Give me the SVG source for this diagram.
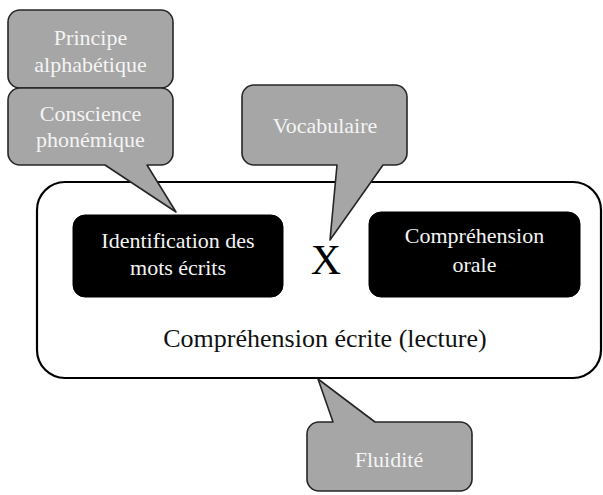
<svg xmlns="http://www.w3.org/2000/svg" width="603" height="495" viewBox="0 0 603 495">
<style>
text { font-family: 'Liberation Serif', 'DejaVu Serif', serif; text-anchor: middle; }
.call { fill: #a6a6a6; stroke: #262626; stroke-width: 1.6; stroke-linejoin: round; }
.callt { fill: #f4f4f4; font-size: 22px; }
.blk { fill: #000; stroke: #000; stroke-width: 1; }
.blkt { fill: #f4f4f4; font-size: 22px; }
.outer { fill: #fff; stroke: #000; stroke-width: 2.2; }
</style>
<rect width="603" height="495" fill="#fff"/>
<g id="lecture">
  <rect class="outer" x="37" y="182" width="564" height="196" rx="28"/>
  <text x="325" y="347" font-size="26" fill="#111" font-family="Liberation Serif, DejaVu Serif, serif">Compréhension écrite (lecture)</text>
</g>
<g id="identification">
  <rect class="blk" x="73" y="215" width="210" height="82" rx="12"/>
  <text class="blkt" x="178" y="248" font-family="Liberation Serif, DejaVu Serif, serif">Identification des</text>
  <text class="blkt" x="178" y="275" font-family="Liberation Serif, DejaVu Serif, serif">mots écrits</text>
</g>
<g id="fois">
  <text x="326" y="274" font-size="42" fill="#000" font-family="Liberation Serif, DejaVu Serif, serif">X</text>
</g>
<g id="comprehension-orale">
  <rect class="blk" x="369" y="212" width="211" height="85" rx="12"/>
  <text class="blkt" x="474.5" y="243" font-family="Liberation Serif, DejaVu Serif, serif">Compréhension</text>
  <text class="blkt" x="474.5" y="272" font-family="Liberation Serif, DejaVu Serif, serif">orale</text>
</g>
<g id="connectors"></g>
<g id="principe">
  <rect class="call" x="8" y="10" width="165" height="78" rx="12"/>
  <text class="callt" x="90.5" y="45" font-family="Liberation Serif, DejaVu Serif, serif">Principe</text>
  <text class="callt" x="90.5" y="72" font-family="Liberation Serif, DejaVu Serif, serif">alphabétique</text>
</g>
<g id="conscience">
  <path class="call" d="M20,88 H161 A12,12 0 0 1 173,100 V153 A12,12 0 0 1 161,165 H147 L176,212 L105,165 H20 A12,12 0 0 1 8,153 V100 A12,12 0 0 1 20,88 Z"/>
  <text class="callt" x="90.5" y="121" font-family="Liberation Serif, DejaVu Serif, serif">Conscience</text>
  <text class="callt" x="90.5" y="147" font-family="Liberation Serif, DejaVu Serif, serif">phonémique</text>
</g>
<g id="vocabulaire">
  <path class="call" d="M254,85 H395 A12,12 0 0 1 407,97 V153 A12,12 0 0 1 395,165 H383 L330,240 L337,165 H254 A12,12 0 0 1 242,153 V97 A12,12 0 0 1 254,85 Z"/>
  <text class="callt" x="325" y="133" font-family="Liberation Serif, DejaVu Serif, serif">Vocabulaire</text>
</g>
<g id="fluidite">
  <path class="call" d="M319,422 H333 L318,379 L375,422 H460 A12,12 0 0 1 472,434 V479 A12,12 0 0 1 460,491 H319 A12,12 0 0 1 307,479 V434 A12,12 0 0 1 319,422 Z"/>
  <text class="callt" x="389" y="467" font-family="Liberation Serif, DejaVu Serif, serif">Fluidité</text>
</g>
</svg>
